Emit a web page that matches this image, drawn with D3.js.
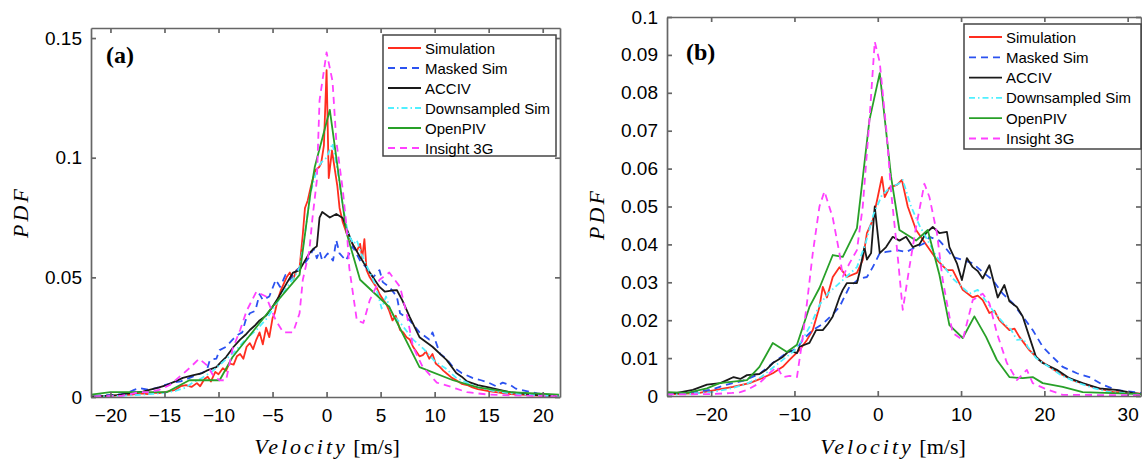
<!DOCTYPE html>
<html>
<head>
<meta charset="utf-8">
<script src="https://cdn.jsdelivr.net/npm/d3@7"></script>
<style>
  body { margin: 0; background: #fff; }
  .axis path, .axis line { stroke: #666; stroke-width: 1.7; }
  .axis text { font-family: "Liberation Sans", Arial, sans-serif; font-size: 19px; fill: #000; }
</style>
</head>
<body>
<script>
// ##################################
// PDF of velocity, two panels (a) and (b)
// ##################################

// Series names and styles (same order in both panels, last drawn on top)
const seriesNames = ["Simulation", "Masked Sim", "ACCIV", "Downsampled Sim", "OpenPIV", "Insight 3G"];
const seriesColors = ["#ff2d1f", "#2b52f0", "#1a1a1a", "#4ff0ff", "#28a028", "#ff40ff"];
const seriesDash = [null, "7,5", null, "6,3,1.5,3", null, "7,5"];

// Tick values
const xTicksA = [-20, -15, -10, -5, 0, 5, 10, 15, 20];
const yTicksA = [0, 0.05, 0.1, 0.15];
const xTicksB = [-20, -10, 0, 10, 20, 30];
const yTicksB = [0, 0.01, 0.02, 0.03, 0.04, 0.05, 0.06, 0.07, 0.08, 0.09, 0.1];

// ---------- panel (a) data: [velocity, pdf] ----------
const simA = [[-21.5,0.0003],[-20,0.0005],[-19,0.0008],[-18,0.001],[-17.3,0.0015],[-16.5,0.0012],[-16,0.0018],[-15.5,0.0016],[-15,0.002],[-14.5,0.0025],[-14,0.003],[-13.5,0.0045],[-13,0.005],[-12.5,0.0042],[-12,0.0058],[-11.7,0.0045],[-11.3,0.0075],[-11,0.0085],[-10.7,0.0065],[-10.3,0.0105],[-10,0.0095],[-9.6,0.012],[-9.3,0.011],[-9,0.014],[-8.6,0.0135],[-8.3,0.017],[-8,0.018],[-7.7,0.016],[-7.4,0.021],[-7.1,0.0225],[-6.8,0.02],[-6.5,0.024],[-6.2,0.027],[-5.9,0.022],[-5.6,0.029],[-5.3,0.025],[-5,0.033],[-4.8,0.035],[-4.5,0.041],[-4.2,0.045],[-4,0.047],[-3.7,0.05],[-3.4,0.052],[-3.1,0.049],[-2.8,0.053],[-2.5,0.054],[-2.2,0.068],[-2,0.079],[-1.75,0.082],[-1.5,0.087],[-1.3,0.0906],[-1,0.095],[-0.7,0.096],[-0.5,0.0977],[-0.25,0.105],[0,0.1366],[0.2,0.0915],[0.5,0.103],[0.8,0.094],[1,0.088],[1.2,0.079],[1.5,0.073],[1.85,0.0685],[2.2,0.066],[2.5,0.063],[2.8,0.061],[3.1,0.064],[3.3,0.058],[3.5,0.066],[3.7,0.053],[4,0.05],[4.3,0.048],[4.6,0.046],[4.9,0.043],[5.2,0.041],[5.5,0.039],[5.8,0.036],[6.1,0.032],[6.4,0.034],[6.8,0.028],[7.1,0.027],[7.4,0.025],[7.7,0.024],[8,0.021],[8.3,0.019],[8.6,0.017],[8.9,0.0175],[9.2,0.019],[9.5,0.016],[9.8,0.018],[10.1,0.014],[10.5,0.0125],[10.8,0.011],[11.2,0.0095],[11.6,0.008],[12,0.007],[12.5,0.0055],[13,0.005],[13.5,0.004],[14,0.0033],[15,0.0025],[16,0.0018],[17,0.0012],[18,0.001],[19,0.0007],[20,0.0005],[21.5,0.0003]];
const maskA = [[-21.5,0.0005],[-20,0.0008],[-19,0.0012],[-18.5,0.0015],[-17.8,0.003],[-17.3,0.0037],[-16.5,0.003],[-15.5,0.004],[-15,0.005],[-14.2,0.006],[-13.5,0.0065],[-12.4,0.0085],[-11.8,0.0095],[-11.1,0.011],[-10.8,0.0155],[-10.2,0.016],[-9.9,0.0196],[-9.3,0.021],[-8.7,0.024],[-8.2,0.026],[-7.8,0.027],[-7.5,0.032],[-7.1,0.035],[-6.6,0.036],[-6.2,0.043],[-5.9,0.0405],[-5.3,0.042],[-4.7,0.049],[-4.3,0.046],[-3.8,0.051],[-3.4,0.049],[-3,0.052],[-2.5,0.054],[-2,0.056],[-1.6,0.0585],[-1.2,0.062],[-0.9,0.058],[-0.65,0.061],[-0.4,0.057],[0.1,0.06],[0.6,0.057],[0.9,0.0655],[1.2,0.06],[1.8,0.057],[2.4,0.063],[3.1,0.057],[3.7,0.054],[4.3,0.05],[4.9,0.053],[5.2,0.048],[5.8,0.046],[6.5,0.042],[6.8,0.035],[7.7,0.032],[8.6,0.027],[9.5,0.024],[9.8,0.027],[10.5,0.018],[11.1,0.016],[11.7,0.0125],[12.5,0.01],[13.5,0.008],[14.3,0.007],[15,0.006],[15.7,0.0045],[16.3,0.006],[17,0.005],[17.5,0.0035],[18.5,0.0025],[19.5,0.0015],[20.5,0.001],[21.5,0.0005]];
const accivA = [[-21.8,0.0003],[-20.5,0.0005],[-19.4,0.0008],[-18,0.0017],[-17,0.0022],[-16.4,0.003],[-15.5,0.004],[-14.8,0.005],[-14,0.0065],[-13.3,0.008],[-12.4,0.009],[-11.5,0.01],[-11.1,0.011],[-10.2,0.0125],[-9.8,0.0145],[-9.3,0.0167],[-8.6,0.021],[-8,0.024],[-7.5,0.026],[-7.1,0.028],[-6.6,0.03],[-6.2,0.032],[-5.6,0.034],[-5,0.0377],[-4.4,0.042],[-3.7,0.0475],[-3.1,0.052],[-2.5,0.053],[-2,0.057],[-1.6,0.06],[-1.2,0.062],[-0.9,0.063],[-0.65,0.075],[-0.4,0.0773],[0.3,0.075],[0.9,0.0765],[1.5,0.0748],[1.8,0.071],[2.4,0.064],[3.1,0.0585],[4,0.052],[4.9,0.046],[5.4,0.044],[6,0.0445],[6.5,0.0447],[7,0.0405],[7.7,0.0334],[8.6,0.025],[9.2,0.023],[9.8,0.021],[10.5,0.018],[11.1,0.0155],[12,0.01],[12.5,0.0085],[13,0.0065],[14,0.005],[15,0.004],[16,0.003],[17,0.002],[18,0.0015],[19,0.001],[20,0.0007],[21.5,0.0004]];
const downA = [[-21.5,0.0003],[-19,0.0005],[-17,0.001],[-15.5,0.0015],[-14,0.0025],[-13,0.004],[-12.4,0.006],[-11.5,0.008],[-10.5,0.011],[-9.5,0.015],[-8.5,0.019],[-7.5,0.024],[-6.5,0.028],[-5.5,0.033],[-4.5,0.04],[-3.5,0.047],[-3,0.05],[-2.5,0.054],[-2,0.068],[-1.5,0.085],[-0.9,0.095],[-0.5,0.098],[0,0.1],[0.55,0.106],[1,0.095],[1.5,0.08],[2,0.068],[2.5,0.064],[2.8,0.0655],[3.2,0.06],[4,0.052],[4.5,0.047],[5.1,0.037],[5.5,0.042],[6,0.035],[7,0.03],[8,0.024],[9,0.02],[10,0.015],[11,0.012],[12,0.008],[13,0.006],[14,0.004],[15.5,0.0025],[17,0.0015],[19,0.0008],[21.5,0.0003]];
const pivA = [[-21.8,0.001],[-20,0.002],[-14.8,0.002],[-12.7,0.007],[-9.9,0.007],[-8.7,0.0167],[-5,0.0377],[-2.5,0.051],[-1.5,0.085],[-1.1,0.096],[0.3,0.12],[1.85,0.0685],[3.1,0.049],[5.8,0.0376],[8.6,0.0125],[11.7,0.007],[14,0.004],[17,0.002],[21.5,0.001]];
const insA = [[-21.5,0.0003],[-19,0.0005],[-17.3,0.002],[-16.5,0.002],[-15.5,0.003],[-14.5,0.005],[-13.6,0.0085],[-12.7,0.012],[-11.8,0.016],[-11,0.013],[-10.5,0.009],[-9.9,0.007],[-9.3,0.007],[-8.7,0.02],[-8,0.028],[-7.4,0.036],[-6.5,0.044],[-5.6,0.042],[-4.7,0.032],[-4,0.027],[-3.1,0.027],[-2.5,0.035],[-2.2,0.049],[-1.6,0.061],[-1.3,0.075],[-0.9,0.0906],[-0.65,0.124],[0,0.144],[0.55,0.132],[0.9,0.107],[1.5,0.0865],[1.85,0.071],[2.1,0.054],[2.8,0.032],[3.4,0.031],[4,0.0405],[4.9,0.049],[5.8,0.052],[6.8,0.046],[7.4,0.035],[8,0.021],[8.9,0.0125],[10.2,0.006],[11,0.005],[12,0.0035],[13,0.002],[15,0.001],[17,0.0007],[21.5,0.0003]];

// ---------- panel (b) data ----------
const simB = [[-25.3,0.0005],[-23,0.0006],[-21.4,0.0008],[-19.4,0.0016],[-17.4,0.0024],[-15.4,0.0034],[-13.8,0.0048],[-12.6,0.006],[-11.4,0.0077],[-10.6,0.0095],[-9.4,0.0121],[-8.5,0.0148],[-7.8,0.0174],[-7,0.0235],[-6.6,0.0288],[-6.1,0.026],[-5.4,0.0314],[-4.6,0.034],[-3.7,0.0314],[-2.5,0.0325],[-1.8,0.0359],[-1.3,0.043],[-0.6,0.0464],[0,0.0525],[0.5,0.0578],[0.84,0.0525],[1.4,0.055],[2.3,0.0557],[2.9,0.057],[3.6,0.05],[4.6,0.0438],[5.8,0.04],[7.1,0.0359],[8.3,0.0332],[9,0.0332],[10.2,0.028],[11.4,0.026],[12,0.0265],[12.6,0.0253],[13.4,0.0219],[14,0.0225],[14.6,0.02],[15.8,0.0174],[16.4,0.0178],[17,0.0156],[18.2,0.0121],[19.4,0.0095],[20.6,0.0077],[21.8,0.006],[23.4,0.0042],[25.8,0.0024],[28.2,0.0011],[31.6,0.0006]];
const maskB = [[-25.3,0.0005],[-22.9,0.0008],[-20.1,0.0016],[-18.1,0.003],[-16.2,0.004],[-14.2,0.0058],[-12.6,0.0087],[-11,0.0113],[-9.7,0.0125],[-9,0.0148],[-7.8,0.0174],[-6.6,0.019],[-5.4,0.0216],[-4.6,0.0235],[-3.4,0.0288],[-2.2,0.031],[-1.3,0.0314],[-0.6,0.034],[0.24,0.0377],[1,0.038],[2.3,0.0385],[3.4,0.038],[4.6,0.0393],[5.8,0.0405],[6.2,0.042],[7.4,0.041],[7.8,0.04],[9,0.0367],[10.2,0.0359],[11.4,0.035],[12.6,0.0327],[13.8,0.0306],[15,0.027],[16.2,0.0245],[17.4,0.021],[18.6,0.0174],[19.8,0.013],[21,0.0103],[22.2,0.0077],[23.9,0.006],[25.4,0.005],[27,0.003],[28.6,0.0016],[31.6,0.0008]];
const accivB = [[-25.3,0.0005],[-24.1,0.0008],[-22.2,0.0016],[-20.5,0.003],[-18.9,0.0034],[-18.1,0.0042],[-17.3,0.005],[-16.5,0.0045],[-15.7,0.0055],[-14.2,0.0058],[-13.4,0.0069],[-12.6,0.0087],[-11.4,0.0103],[-10.6,0.012],[-9.7,0.0113],[-9.4,0.013],[-8.2,0.014],[-7.4,0.0174],[-6.6,0.0174],[-6,0.019],[-5.4,0.021],[-5,0.0235],[-4.6,0.026],[-4.2,0.028],[-3.7,0.0298],[-2.5,0.0298],[-2.2,0.0325],[-1.6,0.0393],[-1.3,0.036],[-0.8,0.0377],[-0.36,0.05],[0.24,0.0377],[1,0.0393],[1.8,0.042],[2.6,0.041],[3.4,0.042],[4.2,0.0393],[5,0.04],[5.8,0.043],[6.6,0.0446],[7.4,0.043],[8.3,0.0433],[8.6,0.0393],[9.5,0.035],[10.1,0.0306],[10.7,0.0364],[11.4,0.034],[12,0.033],[12.6,0.031],[13.4,0.0345],[14.4,0.026],[15.2,0.0293],[15.8,0.025],[16.7,0.0235],[17.4,0.021],[18.2,0.0156],[19,0.0103],[19.8,0.0087],[21.5,0.0069],[23,0.0047],[24.6,0.0034],[26.6,0.002],[28.6,0.0016],[30.6,0.0008],[31.6,0.0005]];
const downB = [[-25.3,0.0004],[-23,0.0005],[-20,0.001],[-18,0.0018],[-16,0.003],[-14,0.005],[-12,0.0085],[-10,0.012],[-9,0.015],[-8,0.019],[-7,0.024],[-6,0.027],[-5,0.029],[-4,0.031],[-2.5,0.034],[-1.5,0.04],[-0.5,0.048],[0.5,0.053],[1.5,0.055],[2.5,0.056],[3,0.057],[4,0.05],[5,0.045],[6,0.041],[7,0.037],[8,0.034],[9,0.031],[10,0.029],[11,0.027],[12,0.028],[13,0.025],[14,0.022],[15,0.0195],[16,0.0175],[16.7,0.0148],[17.5,0.015],[18,0.013],[19,0.01],[20,0.0085],[21,0.007],[22,0.0055],[24,0.0035],[26,0.002],[28,0.001],[31.6,0.0005]];
const pivB = [[-25.3,0.001],[-22.9,0.0008],[-20.5,0.002],[-19,0.0034],[-15.7,0.0042],[-14.2,0.0077],[-12.6,0.014],[-10.9,0.0116],[-9.7,0.0135],[-8.2,0.0235],[-7,0.0285],[-5.4,0.0372],[-4.2,0.0367],[-2.5,0.0443],[-1,0.0728],[0.24,0.0852],[1.6,0.0578],[2.6,0.0438],[4.6,0.041],[6,0.0438],[7.4,0.032],[8.6,0.0187],[10.2,0.0153],[11.6,0.021],[13,0.0156],[14.3,0.0095],[15.8,0.005],[17.4,0.0047],[18.6,0.005],[19.8,0.0034],[22.2,0.0024],[24.6,0.001],[31.6,0.0005]];
const insB = [[-25.3,0.0004],[-20,0.0005],[-17.5,0.0008],[-16.5,0.001],[-15.7,0.0016],[-14.2,0.0034],[-13,0.006],[-12.1,0.0077],[-11.4,0.005],[-10.6,0.0053],[-9.7,0.005],[-9.1,0.014],[-8.5,0.0245],[-7.8,0.0377],[-7,0.05],[-6.4,0.054],[-5.4,0.047],[-4.6,0.0377],[-4.2,0.0315],[-3.4,0.035],[-2.5,0.0385],[-1.8,0.05],[-1,0.0728],[-0.36,0.0935],[0.24,0.088],[1.04,0.07],[1.6,0.054],[2.3,0.039],[3,0.0227],[3.8,0.034],[4.6,0.0446],[5.6,0.056],[6.2,0.0525],[7.1,0.043],[7.8,0.0306],[8.6,0.021],[9,0.0166],[10.2,0.0148],[11.4,0.0253],[12.6,0.027],[13.4,0.0245],[14.3,0.0166],[15.5,0.0087],[16.7,0.0042],[17.9,0.0069],[18.6,0.0034],[20,0.002],[22.2,0.0003],[31.6,0.0002]];


const svg = d3.select("body")
              .append("svg")
              .attr("width", 1142)
              .attr("height", 462);

// Tick label format, MATLAB style with a real minus sign
const fmt = d => (d < 0 ? "\u2212" : "") + Math.abs(d);

function drawPanel(p) {
    const x = d3.scaleLinear().domain(p.xDomain).range([p.left, p.right]);
    const y = d3.scaleLinear().domain(p.yDomain).range([p.bottom, p.top]);

    const g = svg.append("g");

    g.append("clipPath").attr("id", "clip" + p.id)
        .append("rect")
        .attr("x", p.left).attr("y", p.top)
        .attr("width", p.right - p.left).attr("height", p.bottom - p.top);

    // Plot lines
    const line = d3.line()
        .x(d => x(d[0]))
        .y(d => y(d[1]));

    g.append("g")
        .attr("clip-path", "url(#clip" + p.id + ")")
        .selectAll("path")
        .data(p.series)
        .join("path")
            .attr("fill", "none")
            .attr("stroke", (d, i) => seriesColors[i])
            .attr("stroke-width", 1.8)
            .attr("stroke-dasharray", (d, i) => seriesDash[i])
            .attr("stroke-linejoin", "round")
            .attr("d", d => line(d));

    // Box axes, ticks pointing inwards
    g.append("g")
        .attr("class", "axis")
        .attr("transform", "translate(0," + p.bottom + ")")
        .call(d3.axisBottom(x).tickValues(p.xTicks).tickFormat(fmt)
                .tickSizeInner(-5).tickSizeOuter(0).tickPadding(12));
    g.append("g")
        .attr("class", "axis")
        .attr("transform", "translate(0," + p.top + ")")
        .call(d3.axisTop(x).tickValues(p.xTicks).tickFormat("")
                .tickSizeInner(-5).tickSizeOuter(0));
    g.append("g")
        .attr("class", "axis")
        .attr("transform", "translate(" + p.left + ",0)")
        .call(d3.axisLeft(y).tickValues(p.yTicks).tickFormat(fmt)
                .tickSizeInner(-5).tickSizeOuter(0).tickPadding(9));
    g.append("g")
        .attr("class", "axis")
        .attr("transform", "translate(" + p.right + ",0)")
        .call(d3.axisRight(y).tickValues(p.yTicks).tickFormat("")
                .tickSizeInner(-5).tickSizeOuter(0));

    // Panel tag
    g.append("text")
        .attr("x", p.tagX).attr("y", p.tagY)
        .attr("font-family", "'Liberation Serif', 'Times New Roman', serif")
        .attr("font-weight", "bold")
        .attr("font-size", 24)
        .text(p.tag);

    // Axis labels
    const xl = g.append("text")
        .attr("x", p.xLabelX).attr("y", 454)
        .attr("text-anchor", "middle")
        .attr("font-family", "'Liberation Serif', 'Times New Roman', serif")
        .attr("font-size", 22);
    xl.append("tspan").attr("font-style", "italic").attr("letter-spacing", 3).text("Velocity");
    xl.append("tspan").text(" [m/s]");

    g.append("text")
        .attr("transform", "translate(" + p.yLabelX + "," + p.yLabelY + ") rotate(-90)")
        .attr("text-anchor", "middle")
        .attr("font-family", "'Liberation Serif', 'Times New Roman', serif")
        .attr("font-style", "italic")
        .attr("font-size", 22)
        .attr("letter-spacing", 3)
        .text("PDF");

    // Legend
    const lg = g.append("g");
    lg.append("rect")
        .attr("x", p.legX).attr("y", p.legY)
        .attr("width", p.legW).attr("height", p.legH)
        .attr("fill", "#fff")
        .attr("stroke", "#444")
        .attr("stroke-width", 1.5);

    const items = lg.selectAll("g.item")
        .data(seriesNames)
        .join("g")
            .attr("class", "item")
            .attr("transform", (d, i) => "translate(" + (p.legX + 5) + "," + (p.legY + 13 + i * p.legStep) + ")");
    items.append("line")
        .attr("x1", 0).attr("x2", 33)
        .attr("stroke", (d, i) => seriesColors[i])
        .attr("stroke-width", 1.8)
        .attr("stroke-dasharray", (d, i) => seriesDash[i]);
    items.append("text")
        .attr("x", 37).attr("y", 5.5)
        .attr("font-family", "'Liberation Sans', Arial, sans-serif")
        .attr("font-size", 15)
        .text(d => d);
}

drawPanel({
    id: "a",
    left: 91, right: 560, top: 28, bottom: 397,
    xDomain: [-21.8, 21.6], yDomain: [0, 0.1542],
    xTicks: xTicksA, yTicks: yTicksA,
    series: [simA, maskA, accivA, downA, pivA, insA],
    tag: "(a)", tagX: 106, tagY: 63,
    xLabelX: 327, yLabelX: 28, yLabelY: 212,
    legX: 383, legY: 35, legW: 173, legH: 121, legStep: 20
});

drawPanel({
    id: "b",
    left: 667, right: 1141, top: 17, bottom: 396,
    xDomain: [-25.3, 31.6], yDomain: [0, 0.1],
    xTicks: xTicksB, yTicks: yTicksB,
    series: [simB, maskB, accivB, downB, pivB, insB],
    tag: "(b)", tagX: 686, tagY: 60,
    xLabelX: 893, yLabelX: 604, yLabelY: 214,
    legX: 964, legY: 24, legW: 177, legH: 125, legStep: 20.3
});
</script>
</body>
</html>
